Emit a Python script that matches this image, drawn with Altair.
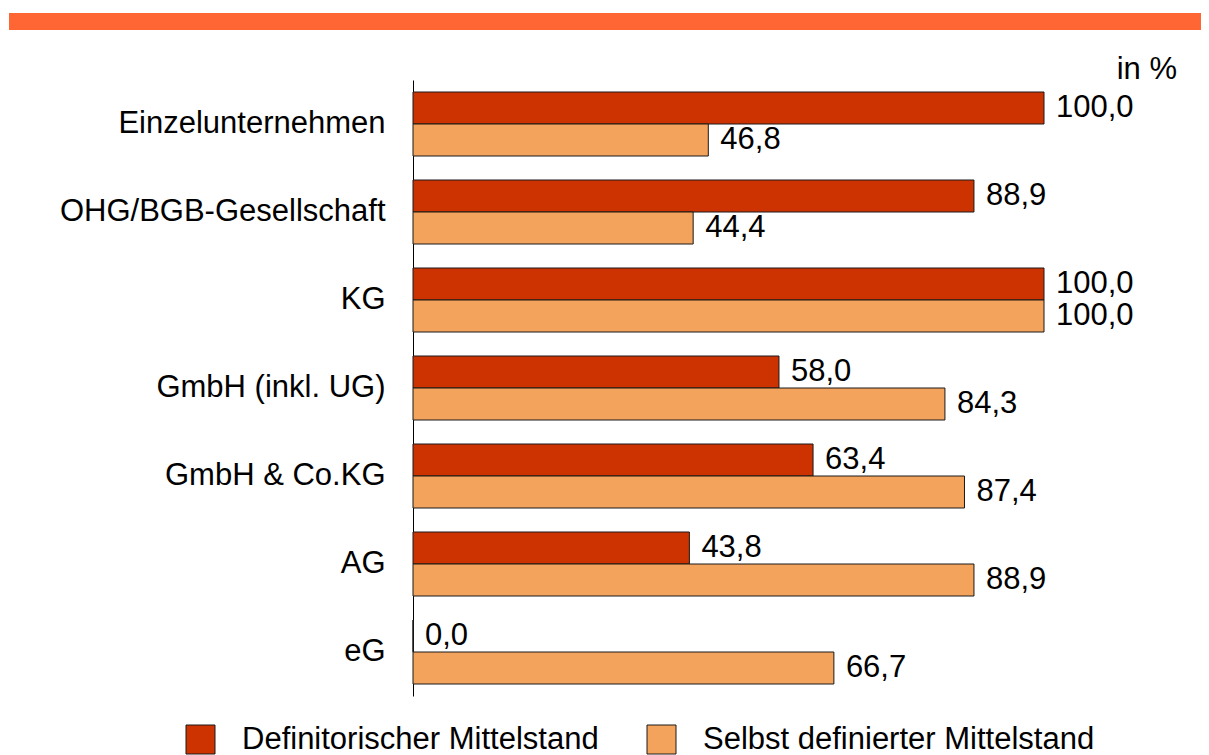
import altair as alt
import pandas as pd

categories = ["Einzelunternehmen", "OHG/BGB-Gesellschaft", "KG", "GmbH (inkl. UG)",
              "GmbH & Co.KG", "AG", "eG"]
definitorisch = [100.0, 88.9, 100.0, 58.0, 63.4, 43.8, 0.0]
selbst = [46.8, 44.4, 100.0, 84.3, 87.4, 88.9, 66.7]
series = ["Definitorischer Mittelstand", "Selbst definierter Mittelstand"]
colors = ["#CC3300", "#F3A35B"]
unit_label = ["in %"]

rows = []
for c, a, b in zip(categories, definitorisch, selbst):
    rows.append({"cat": c, "series": series[0], "value": a})
    rows.append({"cat": c, "series": series[1], "value": b})
df = pd.DataFrame(rows)

FONT = "Liberation Sans, Arial, Helvetica, sans-serif"

y = alt.Y("cat:N", sort=categories,
          scale=alt.Scale(paddingInner=24 / 88, paddingOuter=12 / 88),
          axis=alt.Axis(title=None, ticks=False, labelFontSize=31, labelColor="black",
                        labelFont=FONT, labelPadding=28, domainColor="black",
                        domainWidth=1, grid=False, labelLimit=0))
yoff = alt.YOffset("series:N", sort=series,
                   scale=alt.Scale(paddingInner=0, paddingOuter=0))
x = alt.X("value:Q", scale=alt.Scale(domain=[0, 100], nice=False), axis=None)

base = alt.Chart(df)

bars = base.mark_bar(stroke="#1a1a1a", strokeWidth=1).encode(
    x=x, y=y, yOffset=yoff,
    color=alt.Color("series:N", sort=series,
                    scale=alt.Scale(domain=series, range=colors),
                    legend=alt.Legend(orient="none", legendX=-228, legendY=644,
                                      direction="horizontal", title=None,
                                      symbolType="square", symbolSize=841,
                                      symbolStrokeColor="#1a1a1a", symbolStrokeWidth=1,
                                      symbolOpacity=1,
                                      labelFontSize=31, labelFont=FONT, labelColor="black",
                                      labelOffset=26, columnPadding=46, labelLimit=0)),
)

labels = base.transform_calculate(
    label="replace(format(datum.value, '.1f'), '.', ',')"
).mark_text(align="left", baseline="middle", dx=12, fontSize=31, font=FONT,
            color="black").encode(x=x, y=y, yOffset=yoff, text="label:N")

unit = alt.Chart(pd.DataFrame({"t": unit_label})).mark_text(
    align="right", baseline="middle", fontSize=31, font=FONT, color="black"
).encode(x=alt.value(764), y=alt.value(-10), text="t:N")

band = alt.Chart(pd.DataFrame({"a": [0]})).mark_rect(color="#FF6633").encode(
    x=alt.value(-404), x2=alt.value(788), y=alt.value(-67), y2=alt.value(-50)
)

chart = alt.layer(band, bars, labels, unit).properties(
    width=631, height=616,
    autosize=alt.AutoSizeParams(type="none"),
    padding={"left": 405, "top": 72, "right": 157, "bottom": 59},
).configure_view(stroke=None)

chart.save("out.html", embed_options={"renderer": "svg", "actions": False})
